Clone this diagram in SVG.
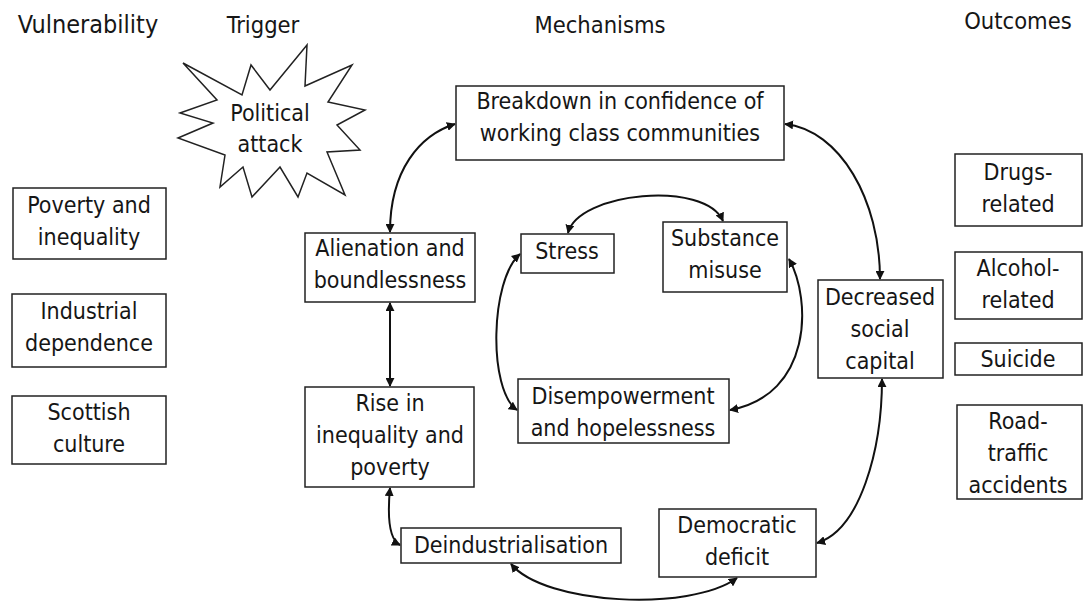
<svg xmlns="http://www.w3.org/2000/svg" width="1083" height="607" viewBox="0 0 1083 607">
<style>
  text { font-family: "DejaVu Sans Condensed", "DejaVu Sans", sans-serif; font-size: 23px; fill: #161616; text-anchor: middle; }
  .hd { font-size: 23.5px; }
  .box { fill: #ffffff; stroke: #222; stroke-width: 1.5; }
  .con { fill: none; stroke: #111; stroke-width: 2; marker-start: url(#ah); marker-end: url(#ah); }
</style>
<defs>
  <marker id="ah" viewBox="0 0 10 10" refX="9" refY="5" markerWidth="4.5" markerHeight="4.5" orient="auto-start-reverse" markerUnits="strokeWidth">
    <path d="M0,0 L10,5 L0,10 z" fill="#111"/>
  </marker>
</defs>
<rect width="1083" height="607" fill="#fff"/>

<g id="headers">
  <text class="hd" x="88" y="33" style="font-size:25px">Vulnerability</text>
  <text class="hd" x="263" y="33">Trigger</text>
  <text class="hd" x="600" y="33">Mechanisms</text>
  <text class="hd" x="1018" y="29">Outcomes</text>
</g>

<g id="connectors">
  <path class="con" d="M390,232 C390,170 420,135 455,124"/>
  <path class="con" d="M390,303 L390,386"/>
  <path class="con" d="M390,488 C387,520 390,540 400,545"/>
  <path class="con" d="M511,564 C545,605 690,612 737,578"/>
  <path class="con" d="M817,543 C860,530 882,450 882,379"/>
  <path class="con" d="M785,124 C840,130 880,200 880,279"/>
  <path class="con" d="M568,233 C578,192 705,180 723,221"/>
  <path class="con" d="M520,254 C490,280 488,390 517,410"/>
  <path class="con" d="M789,259 C812,300 812,395 730,410"/>
</g>

<g id="n-poverty"><rect class="box" x="13" y="188" width="153" height="71"/><text x="89" y="213">Poverty and</text><text x="89" y="245">inequality</text></g>
<g id="n-industrial"><rect class="box" x="12" y="294" width="154" height="73"/><text x="89" y="319">Industrial</text><text x="89" y="351">dependence</text></g>
<g id="n-scottish"><rect class="box" x="12" y="396" width="154" height="68"/><text x="89" y="420">Scottish</text><text x="89" y="452">culture</text></g>

<g id="n-political">
  <polygon class="box" points="183,63 242,95 251,65 270,90 307,45 305,86 352,65 328,102 365,110 337,125 360,150 327,152 345,195 307,173 298,197 280,167 252,197 243,167 220,187 225,155 178,138 213,123 180,113 217,100"/>
  <text x="270" y="121">Political</text><text x="270" y="152">attack</text>
</g>

<g id="n-breakdown"><rect class="box" x="456" y="86" width="328" height="74"/><text x="620" y="109">Breakdown in confidence of</text><text x="620" y="141">working class communities</text></g>
<g id="n-alienation"><rect class="box" x="305" y="233" width="170" height="69"/><text x="390" y="256">Alienation and</text><text x="390" y="288">boundlessness</text></g>
<g id="n-stress"><rect class="box" x="521" y="234" width="93" height="39"/><text x="567" y="259">Stress</text></g>
<g id="n-substance"><rect class="box" x="663" y="222" width="124" height="70"/><text x="725" y="246">Substance</text><text x="725" y="278">misuse</text></g>
<g id="n-disempowerment"><rect class="box" x="518" y="379" width="211" height="64"/><text x="623" y="404">Disempowerment</text><text x="623" y="436">and hopelessness</text></g>
<g id="n-rise"><rect class="box" x="305" y="387" width="169" height="100"/><text x="390" y="411">Rise in</text><text x="390" y="443">inequality and</text><text x="390" y="475">poverty</text></g>
<g id="n-deind"><rect class="box" x="401" y="528" width="220" height="35"/><text x="511" y="553">Deindustrialisation</text></g>
<g id="n-democratic"><rect class="box" x="659" y="509" width="157" height="68"/><text x="737" y="533">Democratic</text><text x="737" y="565">deficit</text></g>
<g id="n-decreased"><rect class="box" x="818" y="280" width="125" height="98"/><text x="880" y="305">Decreased</text><text x="880" y="337">social</text><text x="880" y="369">capital</text></g>

<g id="n-drugs"><rect class="box" x="955" y="154" width="127" height="72"/><text x="1018" y="180">Drugs-</text><text x="1018" y="212">related</text></g>
<g id="n-alcohol"><rect class="box" x="955" y="252" width="127" height="67"/><text x="1018" y="276">Alcohol-</text><text x="1018" y="308">related</text></g>
<g id="n-suicide"><rect class="box" x="955" y="343" width="127" height="32"/><text x="1018" y="367">Suicide</text></g>
<g id="n-road"><rect class="box" x="957" y="405" width="125" height="94"/><text x="1018" y="429">Road-</text><text x="1018" y="461">traffic</text><text x="1018" y="493">accidents</text></g>
</svg>
